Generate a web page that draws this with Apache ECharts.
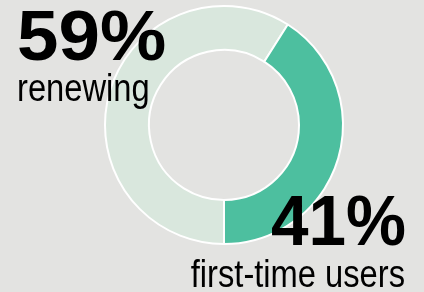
<!DOCTYPE html>
<html>
<head>
<meta charset="utf-8">
<script src="https://cdn.jsdelivr.net/npm/echarts@6/dist/echarts.min.js"></script>
<style>
  html, body { margin: 0; padding: 0; background: #e3e3e1; }
  #chart { width: 424px; height: 292px; }
</style>
</head>
<body>
<div id="chart"></div>
<script>
// data
const labels = ['renewing', 'first-time users'];
const shares = [59, 41];
const colors = ['#d9e7dd', '#4dbf9f'];

const chart = echarts.init(document.getElementById('chart'));

const bigFont = 'bold 71px "Liberation Sans", Arial, sans-serif';
const smallFont = '38px "Liberation Sans", Arial, sans-serif';

// the source font is a bit condensed, squeeze the subtitles a little
function txt(x, y, text, font, align, sx) {
  return {
    type: 'text', z: 100, x: x, y: y, scaleX: sx || 1,
    style: { text: text, font: font, fill: '#000', textAlign: align, align: align, textVerticalAlign: 'top', verticalAlign: 'top' }
  };
}

const option = {
  backgroundColor: '#e3e3e1',
  animation: false,
  series: [{
    type: 'pie',
    silent: true,
    z: 1,
    center: [224, 125],
    radius: [75, 119],
    startAngle: 270,
    clockwise: true,
    label: { show: false },
    labelLine: { show: false },
    itemStyle: { borderColor: '#ffffff', borderWidth: 2 },
    data: labels.map((n, i) => ({ name: n, value: shares[i], itemStyle: { color: colors[i] } }))
  }],
  graphic: [
    txt(17, 5, shares[0] + '%', bigFont, 'left', 1.05),
    txt(17, 72, labels[0], smallFont, 'left', 0.86),
    txt(406, 190, shares[1] + '%', bigFont, 'right', 0.95),
    txt(405, 258, labels[1], smallFont, 'right', 0.86)
  ]
};
chart.setOption(option);
</script>
</body>
</html>
